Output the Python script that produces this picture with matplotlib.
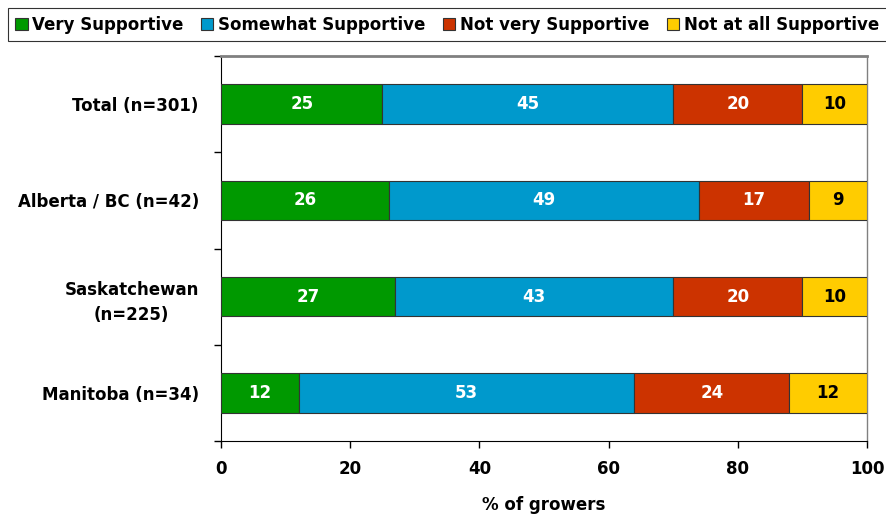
import matplotlib
matplotlib.use("Agg")
import matplotlib.pyplot as plt
from matplotlib.patches import Patch
import numpy as np

plt.rcParams['font.family'] = ['DejaVu Sans']

categories = ["Total (n=301)", "Alberta / BC (n=42)", "Saskatchewan\n(n=225)", "Manitoba (n=34)"]
series_names = ["Very Supportive", "Somewhat Supportive", "Not very Supportive", "Not at all Supportive"]
very = [25, 26, 27, 12]
somewhat = [45, 48, 43, 52]
not_very = [20, 17, 20, 24]
not_at_all = [10, 9, 10, 12]
very_lbl = [25, 26, 27, 12]
somewhat_lbl = [45, 49, 43, 53]
not_very_lbl = [20, 17, 20, 24]
not_at_all_lbl = [10, 9, 10, 12]
colors = ["#009900", "#0099CC", "#CC3300", "#FFCC00"]
text_colors = ["white", "white", "white", "black"]
xticks = [0, 20, 40, 60, 80, 100]

FS = 12

fig = plt.figure(figsize=(8.87, 5.14), dpi=100)
ax = fig.add_axes([221/887, 1-441/514, 646/887, 385/514])

series = [very, somewhat, not_very, not_at_all]
labels = [very_lbl, somewhat_lbl, not_very_lbl, not_at_all_lbl]
y = np.arange(len(categories))
left = np.zeros(len(categories))
for vals, lbls, c, tc in zip(series, labels, colors, text_colors):
    vals = np.array(vals, dtype=float)
    ax.barh(y, vals, left=left, height=0.41, color=c, edgecolor="#333333", linewidth=0.8, zorder=3)
    for yi, (l, v, t) in enumerate(zip(left, vals, lbls)):
        ax.text(l + v/2, yi, str(t), ha="center", va="center", color=tc,
                fontsize=FS, fontweight="bold", zorder=4)
    left += vals

ax.set_xlim(0, 100)
ax.set_ylim(len(categories) - 0.5, -0.5)
ax.set_yticks(y)
ax.set_yticklabels(categories, fontsize=FS, fontweight="bold", ha="right",
                   multialignment="center", linespacing=1.5)
ax.tick_params(axis="y", which="major", length=0, pad=16)
ax.set_yticks(np.arange(-0.5, len(categories)), minor=True)
ax.tick_params(axis="y", which="minor", length=5, width=1, direction="out")
ax.set_xticks(xticks)
ax.set_xticklabels([str(t) for t in xticks], fontsize=FS, fontweight="bold")
ax.tick_params(axis="x", length=5, width=1, direction="out", pad=9)
ax.set_xlabel("% of growers", fontsize=FS, fontweight="bold", va="center")
ax.xaxis.set_label_coords(0.5, (441 - 505) / 385)

ax.spines["left"].set_color("black")
ax.spines["bottom"].set_color("black")
ax.spines["top"].set_color("#808080")
ax.spines["top"].set_linewidth(2)
ax.spines["right"].set_color("#808080")
ax.spines["right"].set_linewidth(1)

handles = [Patch(facecolor=c, edgecolor="#333333", linewidth=0.8) for c in colors]
leg = fig.legend(handles, series_names, loc="upper left", bbox_to_anchor=(8/887, 1-8/514),
                 ncol=4, frameon=True, fancybox=False, edgecolor="black",
                 prop={"size": FS, "weight": "bold"}, handlelength=0.72, handleheight=0.72,
                 handletextpad=0.3, columnspacing=1.05, borderpad=0.45, borderaxespad=0)
leg.get_frame().set_linewidth(0.8)

fig.savefig("out.png", dpi=100)
